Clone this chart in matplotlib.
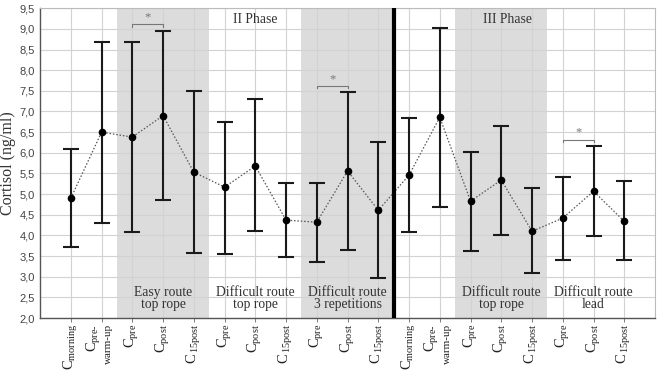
"""Cortisol concentration across climbing phases (mean with error bars)."""

import matplotlib
matplotlib.use("Agg")
import matplotlib.pyplot as plt
from matplotlib.ticker import FuncFormatter, MultipleLocator

plt.rcParams["mathtext.fontset"] = "custom"
plt.rcParams["mathtext.rm"] = "Liberation Serif"
plt.rcParams["mathtext.it"] = "Liberation Serif:italic"

SERIF = "Liberation Serif"
SANS = "Liberation Sans"

# --- data ------------------------------------------------------------------
labels = [
    "C$_{\\mathrm{morning}}$", "C$_{\\mathrm{pre\u2010}}$\nwarm-up",
    "C$_{\\mathrm{pre}}$", "C$_{\\mathrm{post}}$", "C$_{\\mathrm{\\,15post}}$",
    "C$_{\\mathrm{pre}}$", "C$_{\\mathrm{post}}$", "C$_{\\mathrm{\\,15post}}$",
    "C$_{\\mathrm{pre}}$", "C$_{\\mathrm{post}}$", "C$_{\\mathrm{\\,15post}}$",
    "C$_{\\mathrm{morning}}$", "C$_{\\mathrm{pre\u2010}}$\nwarm-up",
    "C$_{\\mathrm{pre}}$", "C$_{\\mathrm{post}}$", "C$_{\\mathrm{\\,15post}}$",
    "C$_{\\mathrm{pre}}$", "C$_{\\mathrm{post}}$", "C$_{\\mathrm{\\,15post}}$",
]
means = [4.90, 6.50, 6.38, 6.90, 5.53, 5.17, 5.68, 4.37, 4.32, 5.56, 4.61,
         5.46, 6.86, 4.83, 5.34, 4.10, 4.42, 5.07, 4.34]
upper = [6.08, 8.68, 8.68, 8.95, 7.50, 6.74, 7.30, 5.27, 5.27, 7.48, 6.25,
         6.83, 9.03, 6.01, 6.66, 5.15, 5.41, 6.16, 5.31]
lower = [3.73, 4.30, 4.08, 4.85, 3.58, 3.54, 4.10, 3.47, 3.36, 3.64, 2.96,
         4.08, 4.68, 3.63, 4.00, 3.08, 3.41, 3.98, 3.40]

# shaded condition blocks (first, last category index)
shaded_blocks = [(2, 4), (8, 10), (13, 15)]
# condition labels: (centre category, text)
group_labels = [
    (3, "Easy route\ntop rope"),
    (6, "Difficult route\ntop rope"),
    (9, "Difficult route\n3 repetitions"),
    (14, "Difficult route\ntop rope"),
    (17, "Difficult route\nlead"),
]
phase_labels = [(6, "II Phase"), (14.2, "III Phase")]
# significance brackets between category pairs, bracket height
sig_pairs = [(2, 3, 9.11), (8, 9, 7.62), (16, 17, 6.32)]
phase_split = 10.5

# --- plot ------------------------------------------------------------------
fig = plt.figure(figsize=(6.57, 3.72), dpi=100)
ax = fig.add_axes([0.061, 0.145, 0.936, 0.833])

x = list(range(len(means)))

for a, b in shaded_blocks:
    ax.axvspan(a - 0.5, b + 0.5, color="#dcdcdc", lw=0, zorder=0.2)

ax.set_axisbelow(True)
ax.grid(True, color="#d2d2d2", lw=0.8, zorder=0.5)

yerr = [[m - lo for m, lo in zip(means, lower)],
        [up - m for m, up in zip(means, upper)]]
ax.errorbar(x, means, yerr=yerr, fmt="none", ecolor="#1a1a1a",
            elinewidth=1.5, capsize=6, capthick=1.5, zorder=3)
ax.plot(x, means, ls=(0, (1.2, 1.5)), color="#555555", lw=0.9, zorder=2)
ax.plot(x, means, "o", color="black", ms=4.5, zorder=4)

ax.axvline(phase_split, color="black", lw=3, zorder=5)

for xc, txt in group_labels:
    ax.text(xc, 2.47, txt, ha="center", va="center", fontsize=9.8,
            family=SERIF, color="#333333", linespacing=0.9, zorder=6)
for xc, txt in phase_labels:
    ax.text(xc, 9.22, txt, ha="center", va="center", fontsize=9.8,
            family=SERIF, color="#333333", zorder=6)

for a, b, h in sig_pairs:
    ax.plot([a, a, b, b], [h - 0.06, h, h, h - 0.06], color="#777777",
            lw=0.8, zorder=6)
    ax.text((a + b) / 2, h + 0.02, "*", ha="center", va="bottom",
            fontsize=9, color="#777777", family=SERIF, zorder=6)

ax.set_xlim(-1, len(means))
ax.set_ylim(2.0, 9.5)
ax.yaxis.set_major_locator(MultipleLocator(0.5))
ax.yaxis.set_major_formatter(FuncFormatter(lambda v, _: f"{v:.1f}".replace(".", ",")))
ax.set_xticks(x)
ax.set_xticklabels([])

# category labels, rotated; two-line ones get a smaller second line
xaxis_tf = ax.get_xaxis_transform()
for i, lab in enumerate(labels):
    if "\n" in lab:
        first, second = lab.split("\n")
        ax.text(i - 0.24, -0.018, first, transform=xaxis_tf, rotation=90,
                ha="center", va="top", fontsize=10.5, family=SERIF,
                color="#222222", clip_on=False)
        ax.text(i + 0.24, -0.018, second, transform=xaxis_tf, rotation=90,
                ha="center", va="top", fontsize=8.0, family=SERIF,
                color="#222222", clip_on=False)
    else:
        ax.text(i, -0.018, lab, transform=xaxis_tf, rotation=90,
                ha="center", va="top", fontsize=10.5, family=SERIF,
                color="#222222", clip_on=False)

for lab in ax.get_yticklabels():
    lab.set_family(SANS)
    lab.set_fontsize(8)
    lab.set_color("#444444")
ax.tick_params(axis="x", length=3, width=0.6, color="#666666", pad=2)
ax.tick_params(axis="y", length=0, pad=4)

ax.set_ylabel("Cortisol (ng/ml)", family=SERIF, fontsize=11.5,
              color="#333333", labelpad=2)

for side in ["top", "right"]:
    ax.spines[side].set_color("#bbbbbb")
    ax.spines[side].set_linewidth(0.8)
for side in ["left", "bottom"]:
    ax.spines[side].set_color("#555555")
    ax.spines[side].set_linewidth(1.0)

fig.savefig("out.png", dpi=100)
